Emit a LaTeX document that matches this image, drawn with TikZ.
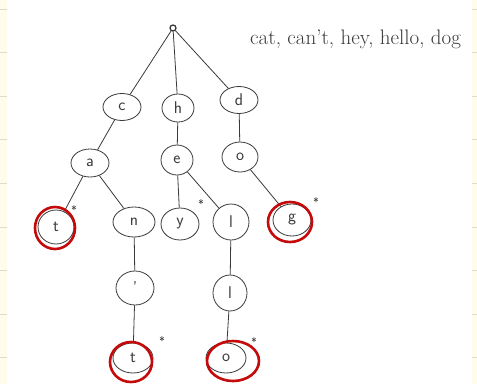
\documentclass[tikz,border=0pt]{standalone}
\usetikzlibrary{shapes.geometric}
\definecolor{cream}{HTML}{FFFCEB}
\definecolor{rule}{HTML}{DCDCD4}
\definecolor{ink}{HTML}{3A3A3A}
\definecolor{redink}{HTML}{C40A0A}
\tikzset{
  lt/.style={ellipse, draw=ink, line width=0.8pt, inner sep=0pt, font=\sffamily\fontsize{17}{17}\selectfont, text=ink},
  edge/.style={draw=ink, line width=0.8pt},
  redring/.style={draw=redink, line width=2.6pt},
  star/.style={font=\sffamily\fontsize{12}{12}\selectfont, text=ink, inner sep=0pt}
}
\begin{document}
\begin{tikzpicture}[x=1pt,y=-1pt]
\useasboundingbox (0,0) rectangle (477,384);
\fill[white] (0,0) rectangle (477,384);
\fill[cream] (0,0) rectangle (7,384);
\fill[cream] (472,0) rectangle (477,384);
\foreach \yy in {9,52.6,96.2,139.8,183.4,227,270.6,314.2,357.8} {
  \draw[rule, line width=1pt] (0,\yy) -- (7,\yy);
  \draw[rule, line width=1pt] (472,\yy) -- (477,\yy);
}
% root
\node[circle, draw=ink, line width=1.3pt, minimum size=6pt, inner sep=0pt] (root) at (173,28) {};
% level 1
\node[lt, minimum width=38pt, minimum height=27pt] (c) at (122,107) {c};
\node[lt, minimum width=32pt, minimum height=28pt] (h) at (178,108) {h};
\node[lt, minimum width=38pt, minimum height=27pt] (d) at (239,100) {d};
% level 2
\node[lt, minimum width=38pt, minimum height=28pt] (a) at (90,163) {a};
\node[lt, minimum width=32pt, minimum height=30pt] (e) at (177,160) {e};
\node[lt, minimum width=36pt, minimum height=30pt] (o) at (240,157) {o};
% level 3
\node[lt, minimum width=36pt, minimum height=34pt] (t1) at (56,227) {t};
\node[lt, minimum width=42pt, minimum height=30pt] (n) at (134,222) {n};
\node[lt, minimum width=38pt, minimum height=32pt] (y) at (180,224) {y};
\node[lt, minimum width=36pt, minimum height=36pt] (l1) at (231,222) {l};
\node[lt, minimum width=38pt, minimum height=32pt] (g) at (292,220) {g};
% level 4
\node[lt, minimum width=38pt, minimum height=34pt] (ap) at (135,288) {'};
\node[lt, minimum width=34pt, minimum height=36pt] (l2) at (230,293) {l};
% level 5
\node[lt, minimum width=40pt, minimum height=30pt] (t2) at (133,358) {t};
\node[lt, minimum width=40pt, minimum height=30pt] (o2) at (226,358) {o};
% edges
\draw[edge] (root) -- (c);
\draw[edge] (root) -- (h);
\draw[edge] (root) -- (d);
\draw[edge] (c) -- (a);
\draw[edge] (a) -- (t1);
\draw[edge] (a) -- (n);
\draw[edge] (h) -- (e);
\draw[edge] (e) -- (y);
\draw[edge] (e) -- (l1);
\draw[edge] (d) -- (o);
\draw[edge] (o) -- (g);
\draw[edge] (n) -- (ap);
\draw[edge] (ap) -- (t2);
\draw[edge] (l1) -- (l2);
\draw[edge] (l2) -- (o2);
% red rings
\draw[redring] (55,228) ellipse [x radius=20, y radius=21];
\draw[redring] (290,222) ellipse [x radius=22, y radius=20];
\draw[redring] (131,362) ellipse [x radius=21, y radius=20];
\draw[redring] (233,361) ellipse [x radius=26, y radius=20];
% asterisks
\node[star] (s1) at (74,210) {*};
\node[star] (s2) at (201,204) {*};
\node[star] (s3) at (316,202) {*};
\node[star] (s4) at (162,341) {*};
\node[star] (s5) at (254,342) {*};
% words
\node[anchor=base west, inner sep=0pt, text=ink, font=\fontsize{21}{24}\selectfont] (words) at (250,44) {cat, can't, hey, hello, dog};
\end{tikzpicture}
\end{document}
